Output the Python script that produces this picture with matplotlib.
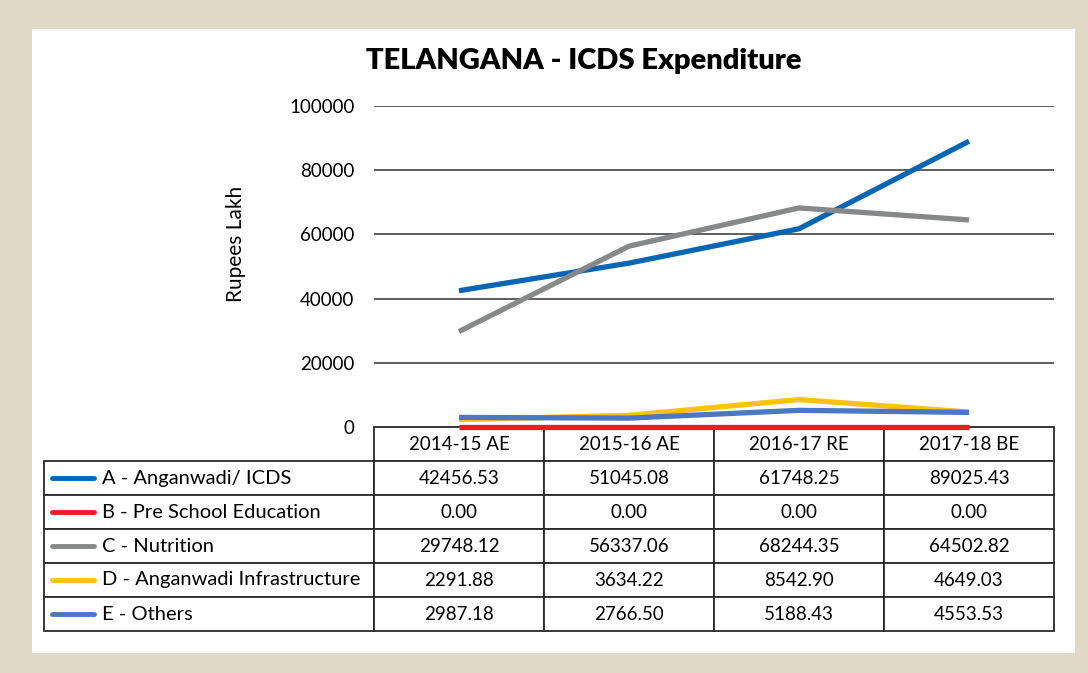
import matplotlib.pyplot as plt
from matplotlib.patches import Rectangle
from matplotlib.lines import Line2D

years = ['2014-15 AE', '2015-16 AE', '2016-17 RE', '2017-18 BE']
names = ['A - Anganwadi/ ICDS', 'B - Pre School Education', 'C - Nutrition',
         'D - Anganwadi Infrastructure', 'E - Others']
anganwadi = [42456.53, 51045.08, 61748.25, 89025.43]
preschool = [0.00, 0.00, 0.00, 0.00]
nutrition = [29748.12, 56337.06, 68244.35, 64502.82]
infra = [2291.88, 3634.22, 8542.90, 4649.03]
others = [2987.18, 2766.50, 5188.43, 4553.53]
colors = ['#0866b4', '#ed1c24', '#87888a', '#ffc20e', '#4a78c2']

series = [anganwadi, preschool, nutrition, infra, others]

W, H = 1088, 673
fig = plt.figure(figsize=(W / 100, H / 100), dpi=100, facecolor='#e0d9c8')
fig.patches.append(Rectangle((32 / W, 1 - 653 / H), 1043 / W, 624 / H,
                             transform=fig.transFigure, facecolor='white',
                             edgecolor='none', zorder=-10))

ax = fig.add_axes([374 / W, 1 - 427 / H, 680 / W, 321 / H])
ax.set_facecolor('none')

x = range(len(years))
for s, c in zip(series, colors):
    ax.plot(x, s, color=c, lw=3.8, solid_capstyle='butt', clip_on=False, zorder=3)

ax.set_xlim(-0.5, 3.5)
ax.set_ylim(0, 100000)
ax.set_yticks([0, 20000, 40000, 60000, 80000, 100000])
ax.set_xticks([])
ax.grid(axis='y', color='#333333', lw=1.1)
ax.set_axisbelow(True)
for sp in ax.spines.values():
    sp.set_visible(False)
ax.tick_params(axis='y', length=0, pad=14, labelsize=13.5)
for lab in ax.get_yticklabels():
    lab.set_fontfamily('Lato')

fig.text(236 / W, 1 - 244 / H, 'Rupees Lakh', rotation=90, ha='center', va='center',
         fontsize=15, family='Lato')
fig.text(584 / W, 1 - 61 / H, 'TELANGANA - ICDS Expenditure', ha='center', va='center',
         fontsize=21, fontweight='heavy', family='Lato')

# data table under the plot
cell_text = [[n] + ['%.2f' % v for v in s] for n, s in zip(names, series)]
row_h = 34 / 321
lab_w = 330 / 680
tab = ax.table(cellText=cell_text, colLabels=[''] + years,
               colWidths=[lab_w, 0.25, 0.25, 0.25, 0.25],
               cellLoc='center',
               bbox=[-lab_w, -6 * row_h, lab_w + 1, 6 * row_h])
tab.auto_set_font_size(False)
tab.set_fontsize(13.5)
for (r, c), cell in tab.get_celld().items():
    cell.set_edgecolor('#2a2a2a')
    cell.set_linewidth(1.3)
    cell.get_text().set_fontfamily('Lato')
    if r == 0 and c == 0:
        cell.visible_edges = 'open'
    if c == 0 and r > 0:
        cell._loc = 'left'
        cell.PAD = 58 / 330
        cell.get_text().set_ha('left')
        cell.get_text().set_fontsize(14.5)

# legend swatches inside the label column
for i, c in enumerate(colors):
    yc = 1 - (427 + 34 * (i + 1) + 17) / H
    fig.add_artist(Line2D([52 / W, 94 / W], [yc, yc], transform=fig.transFigure,
                          color=c, lw=3.5, solid_capstyle='round', zorder=5))

fig.savefig('out.png', dpi=100, facecolor=fig.get_facecolor())
